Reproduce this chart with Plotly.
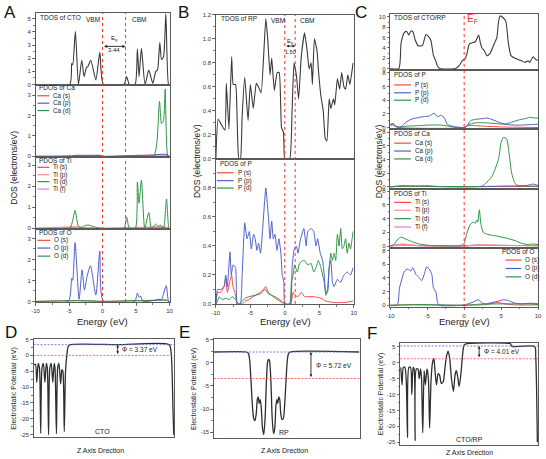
import plotly.graph_objects as go

W, H = 546, 459
FONT = "Arial, Liberation Sans, sans-serif"

# ---------------- DATA ----------------
band_gap_cto = 3.44
band_gap_rp = 1.50
vacuum_levels = [3.37, 2.30, 5.20]       # D, E, F
fermi_levels = [0.00, -3.42, 1.19]
work_functions = [3.37, 5.72, 4.01]
slab_names = ["CTO", "RP", "CTO/RP"]

# Panel A (CTO)
A_tdos_E = [-10, -4.9, -4.6, -4.45, -4.05, -3.6, -3.1, -2.75, -2.4, -2.15, -1.75, -1.0, -0.4, 0.15, 3.2, 3.6, 4.0, 4.85, 5.2, 5.45, 5.8, 6.35, 6.9, 7.5, 7.95, 8.2, 8.55, 8.8, 9.1, 9.45, 9.85, 10]
A_tdos = [0, 0, 1.6, 1.5, 4.05, 0.0, 1.85, 0.6, 1.3, 1.4, 1.85, 0.35, 2.45, 0.0, 0.0, 0.6, 0.0, 0.0, 2.7, 0.6, 2.75, 0.0, 1.1, 0.1, 1.0, 1.1, 3.2, 1.9, 2.1, 5.4, 0.0, 0]

A_cas_E = [-10, -4.1, -0.4, 0.1, 9.4, 10]
A_cas = [0, 0.03, 0.03, 0, 0.06, 0]
A_cap_E = [-10, -4.6, -4.1, -3.1, -1.8, -0.4, 0.1, 5.2, 6.9, 9.4, 10]
A_cap = [0, 0, 0.05, 0.05, 0.05, 0.05, 0, 0.05, 0.05, 0.1, 0]
A_cad_E = [-10, -4.6, -4.1, -3.6, -1.8, -0.4, 0.1, 7.6, 8.1, 8.5, 8.8, 9.1, 9.35, 9.75, 10]
A_cad = [0, 0, 0.04, 0, 0.03, 0.03, 0, 0, 0.65, 2.7, 1.6, 1.75, 3.3, 0, 0]

A_tis_E = [-10, -4.1, 0, 9.4, 10]
A_tis = [0, 0.03, 0, 0.03, 0]
A_tip_E = [-10, -4.1, -3.0, -2.0, 0, 3.6, 5.5, 9.4, 10]
A_tip = [0, 0.08, 0.05, 0.04, 0, 0.05, 0.05, 0.08, 0]
A_tid_E = [-10, -4.9, -4.1, -3.6, -3.1, -2.5, -2.0, -1.0, 0.1, 3.2, 3.6, 4.0, 4.9, 5.2, 5.45, 5.8, 6.3, 6.9, 7.3, 7.9, 8.3, 8.7, 9.1, 9.55, 9.9, 10]
A_tid = [0, 0, 0.85, 0.1, 0.05, 0.15, 0.15, 0.05, 0, 0, 0.55, 0, 0, 2.2, 1.2, 2.3, 0, 0.75, 0, 0.2, 0.1, 0.15, 0, 1.4, 0, 0]
A_tif_E = [-10, -4.1, 0, 5.5, 10]
A_tif = [0, 0.02, 0, 0.02, 0]

A_os_E = [-10, -4.1, 0, 5.2, 8.0, 8.8, 9.5, 10]
A_os = [0, 0.03, 0, 0.03, 0.05, 0.08, 0.06, 0]
A_op_E = [-10, -5.1, -4.6, -4.45, -4.1, -3.5, -3.05, -2.7, -2.3, -1.8, -1.0, -0.4, 0.15, 4.8, 5.2, 5.45, 5.7, 6.0, 7.8, 8.3, 8.8, 9.5, 9.85, 10]
A_op = [0, 0, 1.1, 1.0, 2.8, 0.1, 1.5, 0.55, 1.2, 1.7, 0.3, 2.4, 0, 0, 0.4, 0.2, 0.25, 0, 0.05, 0.1, 0.1, 0.75, 0, 0]
A_od_E = [-10, -4.1, -1.8, 0, 5.2, 9.5, 10]
A_od = [0, 0.04, 0.03, 0, 0.04, 0.05, 0]

# Panel B (RP)
B_tdos_E = [-10.0, -9.67, -9.05, -8.67, -8.48, -8.1, -7.71, -7.48, -7.14, -6.9, -6.67, -6.43, -6.19, -5.81, -5.33, -5.0, -4.57, -4.14, -3.81, -3.43, -2.76, -2.48, -2.14, -1.9, -1.52, -1.1, -0.81, -0.48, -0.19, 0.0, 0.71, 1.05, 1.33, 1.67, 2.0, 2.38, 2.86, 3.24, 3.52, 3.81, 4.0, 4.29, 4.67, 4.9, 5.24, 5.57, 5.86, 6.1, 6.43, 6.67, 7.05, 7.24, 7.62, 7.95, 8.24, 8.57, 8.81, 9.14, 9.43, 9.9]
B_tdos = [0.0, 0.33, 0.27, 0.24, 0.63, 0.25, 0.85, 0.62, 0.62, 0.3, 0.0, 0.0, 0.35, 0.68, 0.32, 0.62, 0.42, 0.63, 0.6, 0.55, 1.17, 1.0, 0.7, 0.84, 0.57, 0.72, 0.72, 0.26, 0.22, 0.0, 0.0, 0.4, 0.8, 0.7, 0.5, 0.85, 1.05, 0.9, 0.75, 0.8, 0.62, 1.0, 0.9, 0.72, 0.52, 0.4, 0.17, 0.15, 0.5, 0.42, 0.5, 0.45, 0.67, 0.58, 0.72, 0.6, 0.58, 0.7, 0.62, 0.8]

B_ps_E = [-10.0, -9.76, -9.29, -8.81, -8.57, -8.33, -8.0, -7.71, -7.52, -7.24, -6.9, -6.19, -5.71, -5.24, -4.29, -3.57, -3.1, -2.76, -2.38, -1.9, -1.43, -0.71, 0.0, 0.86, 1.19, 1.52, 1.9, 2.38, 2.86, 3.33, 4.29, 5.24, 5.95, 7.14, 8.57, 9.9]
B_ps = [0.0, 0.08, 0.08, 0.12, 0.18, 0.08, 0.15, 0.2, 0.12, 0.08, 0.0, 0.0, 0.02, 0.03, 0.06, 0.08, 0.1, 0.12, 0.08, 0.06, 0.04, 0.02, 0.0, 0.0, 0.08, 0.06, 0.05, 0.08, 0.05, 0.05, 0.05, 0.04, 0.02, 0.01, 0.01, 0.02]
B_pp_E = [-10.0, -9.76, -9.29, -8.81, -8.57, -8.33, -7.95, -7.76, -7.52, -7.14, -6.9, -6.43, -6.19, -5.81, -5.48, -5.14, -4.86, -4.52, -4.29, -4.05, -3.81, -3.52, -3.24, -2.76, -2.38, -2.14, -1.9, -1.67, -1.43, -1.14, -0.86, -0.57, -0.38, -0.14, 0.0, 0.81, 1.05, 1.33, 1.67, 1.9, 2.29, 2.76, 3.1, 3.33, 3.81, 4.19, 4.52, 4.76, 5.14, 5.48, 5.71, 5.95, 6.19, 6.43, 6.67, 6.9, 7.14, 7.62, 8.1, 8.57, 9.05, 9.52, 9.9]
B_pp = [0.0, 0.1, 0.1, 0.12, 0.2, 0.12, 0.36, 0.2, 0.27, 0.25, 0.0, 0.0, 0.2, 0.56, 0.45, 0.5, 0.38, 0.48, 0.45, 0.37, 0.42, 0.35, 0.5, 0.8, 0.6, 0.45, 0.57, 0.45, 0.48, 0.37, 0.45, 0.35, 0.2, 0.15, 0.0, 0.0, 0.25, 0.37, 0.4, 0.35, 0.45, 0.52, 0.4, 0.5, 0.52, 0.5, 0.4, 0.45, 0.35, 0.3, 0.2, 0.08, 0.08, 0.25, 0.3, 0.15, 0.12, 0.17, 0.15, 0.2, 0.22, 0.2, 0.25]
B_pd_E = [-10.0, -9.76, -9.52, -9.05, -8.57, -8.1, -7.62, -7.14, -6.67, -6.19, -5.71, -5.24, -4.29, -3.57, -2.86, -2.38, -1.43, -0.71, -0.24, 0.0, 0.71, 0.95, 1.19, 1.43, 1.81, 2.14, 2.62, 2.86, 3.33, 3.81, 4.19, 4.52, 4.86, 5.24, 5.48, 5.71, 5.95, 6.19, 6.43, 6.67, 6.9, 7.14, 7.38, 7.62, 7.86, 8.1, 8.33, 8.57, 8.81, 9.05, 9.29, 9.52, 9.76, 9.9]
B_pd = [0.0, 0.02, 0.05, 0.03, 0.04, 0.03, 0.05, 0.03, 0.0, 0.02, 0.04, 0.05, 0.06, 0.07, 0.1, 0.07, 0.05, 0.03, 0.01, 0.0, 0.0, 0.15, 0.2, 0.27, 0.22, 0.28, 0.3, 0.3, 0.27, 0.28, 0.22, 0.25, 0.3, 0.25, 0.2, 0.15, 0.06, 0.1, 0.25, 0.35, 0.3, 0.35, 0.3, 0.48, 0.4, 0.52, 0.38, 0.4, 0.45, 0.35, 0.42, 0.38, 0.45, 0.5]

# Panel C (CTO/RP)
C_tdos_E = [-10, -8.84, -8.53, -8.08, -7.77, -7.5, -7.19, -6.96, -6.61, -6.21, -5.63, -5.18, -4.82, -4.51, -4.15, -3.84, -3.62, -3.3, -1.16, -0.71, -0.27, 0.18, 0.4, 0.71, 1.07, 1.52, 1.96, 2.19, 2.41, 2.72, 3.08, 3.53, 3.97, 4.42, 4.64, 4.87, 5.31, 5.63, 5.98, 6.34, 6.88, 7.77, 8.21, 8.66, 8.88, 9.33, 9.64, 10]
C_tdos = [0, 0, 5.0, 7.0, 7.2, 6.5, 7.3, 7.2, 5.5, 4.4, 4.5, 6.6, 6.2, 5.5, 2.5, 1.5, 0.5, 0, 0, 0.5, 1.5, 2.0, 3.0, 4.8, 5.0, 5.2, 6.5, 5.0, 4.0, 3.5, 2.5, 3.0, 4.5, 6.0, 9.0, 10.2, 9.8, 9.2, 5.0, 2.5, 2.0, 1.5, 1.2, 1.5, 1.2, 2.3, 1.8, 1.6]

C_ps_E = [-10, -9.64, -9.29, -8.75, 0.04, 0.58, 2.86, 5.09, 7.32, 10]
C_ps = [0.4, 0.6, 0.2, 0.0, 0.0, 0.3, 0.2, 0.1, 0.05, 0.02]
C_pp_E = [-10, -9.64, -9.2, -8.75, -8.39, -7.86, -7.19, -6.52, -6.07, -5.4, -4.73, -4.06, -3.62, -3.17, -2.72, -2.28, -1.61, -0.71, 0.04, 0.4, 0.85, 1.52, 2.41, 3.08, 3.75, 4.64, 5.54, 6.43, 7.32, 8.21, 9.11, 10]
C_pp = [0.5, 0.6, 0.2, 0.1, 0.2, 0.8, 1.2, 1.4, 1.5, 1.6, 1.7, 2.1, 1.6, 1.8, 1.5, 0.5, 0.2, 0.05, 0.0, 0.3, 1.0, 1.2, 1.3, 1.4, 1.2, 0.8, 0.5, 0.4, 0.35, 0.4, 0.45, 0.5]
C_pd_E = [-10, -9.64, -9.2, -8.75, -7.86, -6.07, -3.84, -2.5, -1.61, 0.04, 0.58, 1.52, 2.86, 4.2, 5.54, 6.43, 7.32, 8.21, 8.88, 9.55, 10]
C_pd = [0.3, 0.4, 0.1, 0.05, 0.2, 0.3, 0.4, 0.3, 0.1, 0.0, 0.4, 0.7, 0.7, 0.6, 0.5, 0.8, 1.1, 1.3, 1.5, 1.4, 1.4]

C_cas_E = [-10, -9, -3, 0, 5, 10]
C_cas = [0, 0.05, 0.02, 0, 0.05, 0.05]
C_cap_E = [-10, -8.5, -6.5, -5, -3.5, 0, 2, 5, 8.5, 9.3, 10]
C_cap = [0, 0.15, 0.1, 0.15, 0.05, 0.0, 0.05, 0.1, 0.2, 0.4, 0.2]
C_cad_E = [-10, -8.5, -6, -3.5, 0, 2.4, 2.9, 3.75, 4.64, 5.0, 5.3, 5.75, 6.07, 6.43, 6.88, 7.32, 10]
C_cad = [0, 0.1, 0.1, 0.05, 0.05, 0.1, 0.5, 1.5, 4.0, 6.5, 7.2, 7.0, 5.0, 2.0, 0.5, 0.2, 0.1]

C_tis_E = [-10, -9, -8.5, -7.5, -6, 0, 1, 2, 5, 10]
C_tis = [0, 0.2, 0.25, 0.15, 0.05, 0, 0.1, 0.15, 0.1, 0.05]
C_tip_E = [-10, -9, -8.3, -7.5, -6, 0, 1.5, 2.2, 5, 10]
C_tip = [0, 0.15, 0.3, 0.2, 0.05, 0, 0.15, 0.2, 0.1, 0.05]
C_tid_E = [-10, -9.43, -8.97, -8.53, -7.86, -6.96, -6.07, -4.73, -3.3, -0.63, -0.18, 0.04, 0.4, 0.85, 1.3, 1.5, 1.7, 1.85, 2.05, 2.3, 2.6, 3.2, 4.2, 5.54, 6.88, 7.77, 8.66, 9.33, 10]
C_tid = [0, 0.3, 1.0, 1.3, 1.0, 0.6, 0.3, 0.1, 0.05, 0.05, 0.2, 0.5, 2.0, 3.2, 3.5, 3.3, 3.8, 3.5, 5.3, 3.0, 2.0, 1.7, 1.5, 1.2, 0.8, 0.4, 0.2, 0.3, 0.2]
C_tif_E = [-10, -8.5, -6, 0, 2, 5, 10]
C_tif = [0, 0.1, 0.05, 0, 0.1, 0.1, 0.05]

C_os_E = [-10, -7, 0, 3, 4.5, 5.5, 7, 10]
C_os = [0, 0.05, 0, 0.1, 0.4, 0.2, 0.05, 0.05]
C_op_E = [-10, -9.06, -8.75, -8.39, -8.08, -7.63, -7.19, -6.96, -6.52, -6.07, -5.76, -5.4, -5.09, -4.73, -4.38, -4.15, -3.84, -3.62, -3.39, -0.27, 0.18, 1.07, 1.96, 2.41, 2.86, 3.75, 4.64, 5.31, 5.98, 6.88, 7.77, 9.11, 10]
C_op = [0, 0, 2.5, 4.0, 5.0, 5.3, 5.0, 5.5, 4.5, 4.0, 3.6, 4.5, 5.6, 5.3, 4.5, 2.5, 2.0, 0.5, 0, 0, 0.1, 0.4, 0.8, 0.3, 0.2, 0.4, 0.6, 0.8, 0.7, 0.3, 0.2, 0.3, 0.2]
C_od_E = [-10, -7, -5, 0, 2, 5, 9, 10]
C_od = [0, 0.1, 0.1, 0, 0.15, 0.2, 0.2, 0.1]

# Electrostatic potentials (z in % of cell)
D_z = [0.47, 1.4, 2.3, 3.3, 4.2, 5.1, 6.0, 7.0, 8.1, 9.1, 9.8, 10.7, 11.6, 12.6, 13.7, 14.7, 15.3, 16.3, 17.2, 18.1, 19.3, 20.2, 20.9, 21.9, 22.8, 23.7, 24.7, 26.0, 60, 96.7, 98.1, 98.8, 99.5, 100]
D_v = [-3, -2.8, -8.5, -2.5, -4, -24.5, -4, -2.5, -8.5, -2.5, -4, -25, -4, -2.5, -8.5, -2.5, -4, -24.7, -4, -2.5, -9, -4.5, -5, -24, -5, 0, 2.8, 3.37, 3.37, 3.37, 1.0, -5, -18, -25]
E_z = [0, 22.5, 23.8, 24.7, 25.6, 26.5, 27.4, 28.3, 29.2, 29.9, 30.6, 31.2, 31.9, 32.6, 33.5, 34.4, 35.3, 36.2, 37.1, 37.8, 38.4, 39.3, 40.2, 41.1, 42.0, 42.7, 43.4, 44.0, 44.7, 45.4, 46.1, 47.0, 47.9, 48.8, 49.7, 50.6, 51.5, 52.6, 100]
E_v = [2.3, 2.3, 2.0, 0.5, -4, -9, -12, -12.5, -11, -8, -7.4, -8.8, -8, -9.5, -14, -15.5, -12, -4, 0.3, 0.7, 0.3, -4, -12, -15.3, -14, -9.5, -8, -8.8, -7.4, -8, -11, -12.3, -12, -9, -4, 0.5, 2.0, 2.3, 2.3]
F_z = [0.5, 1.4, 2.4, 3.5, 4.5, 5.4, 6.4, 7.6, 8.5, 9.5, 10.2, 10.9, 11.8, 13.0, 13.9, 14.9, 15.6, 16.5, 17.5, 18.4, 19.6, 20.6, 21.5, 22.5, 23.6, 24.6, 25.5, 26.5, 27.7, 28.8, 30.0, 31.4, 32.6, 33.8, 35.0, 36.2, 37.4, 38.8, 40.0, 40.9, 41.8, 43.0, 44.2, 45.4, 46.6, 48.0, 80.4, 81.1, 82.0, 98.1, 98.8, 99.5, 100]
F_v = [-1.5, -7, -1.5, -1.5, -6, -23.5, -1.5, -1.5, -10, -1.5, -2, -24.5, -2, -2, -5, -2, -5, -22, -2.5, -7, -2, -5, -20.5, -6, 0, 1.2, -3, -7, -3.5, -4, -6.5, -6, -2, 2, 3.6, 1, -5, -9, -4, -2.5, -4, -7.5, -4, 2, 5.5, 5.9, 5.9, 5.3, 5.0, 5.0, 2, -10, -25]

# ---------------- FIGURE ----------------
def PX(x):
    return x / W


def PY(y):
    return 1 - y / H


RED = "#f24a46"
SALMON = "#ff8e86"
BLUE = "#4f60cc"
GREEN = "#2f9446"
PINK = "#dd7ddd"
DARK = "#3a3a3a"
VRED = "#ff2b2b"

fig = go.Figure()
layout = {}
shapes = []
annots = []


def names(n):
    return ("x", "y") if n == 1 else (f"x{n}", f"y{n}")


BASE = dict(showline=True, mirror=True, linecolor="#5a5a5a", linewidth=1,
            ticks="outside", ticklen=2.5, tickwidth=0.8, tickcolor="#5a5a5a",
            tickfont=dict(size=6, color="#333", family=FONT),
            showgrid=False, zeroline=False, fixedrange=True)


def fmt(v, f):
    return (f"{v:.1f}" if f == "1f" else f"{v:g}")


def axes(n, xpx, ypx, yr, yvals, yminor, yf="g", xlabels=False, dos=True, xr=(-10, 10)):
    xn, yn = names(n)
    xa = dict(BASE, domain=[PX(xpx[0]), PX(xpx[1])], range=list(xr), anchor=yn)
    if dos:
        xa.update(tickvals=[-10, -5, 0, 5, 10], ticktext=["-10", "-5", "0", "5", "10"])
        if xlabels:
            xa.update(minor=dict(dtick=2.5, tick0=0, ticklen=1.5, ticks="outside", tickcolor="#5a5a5a"))
        else:
            xa.update(showticklabels=False, ticks="")
    else:
        xa.update(showticklabels=False, ticks="")
    ya = dict(BASE, domain=[PY(ypx[1]), PY(ypx[0])], range=yr, anchor=xn,
              tickvals=yvals, ticktext=[fmt(v, yf) for v in yvals],
              minor=dict(dtick=yminor, tick0=0, ticklen=1.5, ticks="outside", tickcolor="#5a5a5a"))
    layout["xaxis" if n == 1 else f"xaxis{n}"] = xa
    layout["yaxis" if n == 1 else f"yaxis{n}"] = ya


def line(n, x, y, color, width=1.0, smooth=0.6):
    xn, yn = names(n)
    fig.add_trace(go.Scatter(x=x, y=y, mode="lines", xaxis=xn, yaxis=yn,
                             line=dict(color=color, width=width, shape="spline", smoothing=smooth),
                             hoverinfo="skip", showlegend=False))


def text(x, y, s, size=6.5, color="#222", xa="left", ya="middle", angle=0):
    annots.append(dict(xref="paper", yref="paper", x=PX(x), y=PY(y), text=s, showarrow=False,
                       xanchor=xa, yanchor=ya, textangle=angle,
                       font=dict(size=size, color=color, family=FONT)))


def legend(x0, x1, tx, y, color, label, size=6.3):
    shapes.append(dict(type="line", xref="paper", yref="paper", x0=PX(x0), x1=PX(x1),
                       y0=PY(y), y1=PY(y), line=dict(color=color, width=1.2)))
    text(tx, y, label, size=size)


# ---- Panel A ----
AX = (32, 168)
axes(1, AX, (10, 83), [-0.03, 5.45], [0, 1, 2, 3, 4, 5], 0.5)
axes(2, AX, (83, 156), [-0.03, 3.5], [0, 1, 2, 3], 0.5)
axes(3, AX, (156, 229), [-0.03, 3.4], [0, 1, 2, 3], 0.5)
axes(4, AX, (229, 303), [-0.03, 3.45], [0, 1, 2, 3], 0.5, xlabels=True)
line(1, A_tdos_E, A_tdos, DARK, 1.1)
line(2, A_cas_E, A_cas, RED); line(2, A_cap_E, A_cap, BLUE); line(2, A_cad_E, A_cad, GREEN)
line(3, A_tis_E, A_tis, RED); line(3, A_tip_E, A_tip, SALMON); line(3, A_tif_E, A_tif, PINK); line(3, A_tid_E, A_tid, GREEN)
line(4, A_os_E, A_os, RED); line(4, A_od_E, A_od, GREEN); line(4, A_op_E, A_op, BLUE)
for xv in [0, band_gap_cto]:
    shapes.append(dict(type="line", xref="x", yref="paper", x0=xv, x1=xv, y0=PY(303), y1=PY(10),
                       line=dict(color=VRED, width=1, dash="dot")))
annots.append(dict(xref="x", yref="y", x=band_gap_cto, y=2.9, ax=0, ay=2.9, axref="x", ayref="y",
                   text="", showarrow=True, arrowhead=2, arrowside="end+start", arrowsize=0.7,
                   arrowwidth=0.9, arrowcolor="#222"))
text(34, 15, "TDOS of CTO")
text(90, 17, "VBM", xa="center")
text(137, 17, "CBM", xa="center")
text(112, 36, "E<sub>g</sub>", size=6, xa="center")
text(112, 48, f"{band_gap_cto:.2f}", size=6, xa="center")
text(33, 86, "PDOS of Ca")
for yy, c, lab in [(94, RED, "Ca (s)"), (101.5, BLUE, "Ca (p)"), (109, GREEN, "Ca (d)")]:
    legend(34, 46, 48, yy, c, lab)
text(33, 159.5, "PDOS of Ti")
for yy, c, lab in [(166.5, RED, "Ti (s)"), (174, SALMON, "Ti (p)"), (181, GREEN, "Ti (d)"), (188.5, PINK, "Ti (f)")]:
    legend(34, 46, 48, yy, c, lab)
text(33, 233, "PDOS of O")
for yy, c, lab in [(240.5, RED, "O (s)"), (248.3, BLUE, "O (p)"), (256.5, GREEN, "O (d)")]:
    legend(34, 47, 49, yy, c, lab)

# ---- Panel B ----
BX = (215, 355)
axes(5, BX, (12, 158), [0, 1.2], [0, 0.2, 0.4, 0.6, 0.8, 1.0, 1.2], 0.1, yf="1f")
axes(6, BX, (158, 305), [0, 1.0], [0, 0.2, 0.4, 0.6, 0.8], 0.1, yf="1f", xlabels=True)
line(5, B_tdos_E, B_tdos, DARK, 1.1, 0.4)
line(6, B_ps_E, B_ps, RED, 1.0, 0.4)
line(6, B_pd_E, B_pd, GREEN, 1.0, 0.4)
line(6, B_pp_E, B_pp, BLUE, 1.0, 0.4)
for xv in [0, band_gap_rp]:
    shapes.append(dict(type="line", xref="x5", yref="paper", x0=xv, x1=xv, y0=PY(305), y1=PY(12),
                       line=dict(color=VRED, width=1, dash="dot")))
annots.append(dict(xref="x5", yref="y5", x=band_gap_rp, y=0.94, ax=0, ay=0.94, axref="x5", ayref="y5",
                   text="", showarrow=True, arrowhead=2, arrowside="end+start", arrowsize=0.6,
                   arrowwidth=0.9, arrowcolor="#222"))
text(218, 16, "TDOS of RP")
text(278, 18, "VBM", xa="center")
text(307, 18, "CBM", xa="center")
text(290, 39, "E<sub>g</sub>", size=5.5, xa="center")
text(290.5, 50, f"{band_gap_rp:.2f}", size=5.5, xa="center")
text(217, 163, "PDOS of P")
for yy, c, lab in [(172, RED, "P (s)"), (180, BLUE, "P (p)"), (187.5, GREEN, "P (d)")]:
    legend(216, 233, 235, yy, c, lab)

# ---- Panel C ----
CX = (392, 542)
axes(7, CX, (11, 68), [-0.3, 10.6], [0, 2, 4, 6, 8, 10], 1)
axes(8, CX, (68, 128), [-0.25, 8.4], [0, 2, 4, 6, 8], 1)
axes(9, CX, (128, 188), [-0.25, 8.4], [0, 2, 4, 6, 8], 1)
axes(10, CX, (188, 248), [-0.25, 8.4], [0, 2, 4, 6, 8], 1)
axes(11, CX, (248, 308), [-0.25, 8.4], [0, 2, 4, 6, 8], 1, xlabels=True)
line(7, C_tdos_E, C_tdos, DARK, 1.1)
line(8, C_ps_E, C_ps, RED); line(8, C_pd_E, C_pd, GREEN); line(8, C_pp_E, C_pp, BLUE)
line(9, C_cas_E, C_cas, RED); line(9, C_cap_E, C_cap, BLUE); line(9, C_cad_E, C_cad, GREEN)
line(10, C_tis_E, C_tis, RED); line(10, C_tip_E, C_tip, SALMON); line(10, C_tif_E, C_tif, PINK); line(10, C_tid_E, C_tid, GREEN)
line(11, C_os_E, C_os, RED); line(11, C_od_E, C_od, GREEN); line(11, C_op_E, C_op, BLUE)
shapes.append(dict(type="line", xref="x7", yref="paper", x0=0, x1=0, y0=PY(308), y1=PY(11),
                   line=dict(color=VRED, width=1, dash="dot")))
text(394, 15, "TDOS of CTO/RP")
text(468, 16, "E<sub>F</sub>", size=10, color=VRED)
text(394, 72, "PDOS of P")
for yy, c, lab in [(83, RED, "P (s)"), (91, BLUE, "P (p)"), (98.5, GREEN, "P (d)")]:
    legend(396, 413, 415, yy, c, lab)
text(394, 132, "PDOS of Ca")
for yy, c, lab in [(142, RED, "Ca (s)"), (150, BLUE, "Ca (p)"), (158, GREEN, "Ca (d)")]:
    legend(396, 413, 415, yy, c, lab)
text(394, 193.5, "PDOS of Ti")
for yy, c, lab in [(202, RED, "Ti (s)"), (210, SALMON, "Ti (p)"), (218.5, GREEN, "Ti (d)"), (227, PINK, "Ti (f)")]:
    legend(396, 413, 415, yy, c, lab)
text(541, 252, "PDOS of O", xa="right")
for yy, c, lab in [(260.5, RED, "O (s)"), (269, BLUE, "O (p)"), (277.5, GREEN, "O (d)")]:
    legend(509, 525, 527, yy, c, lab)

# DOS axis titles
for x, y in [(10, 167), (196, 160), (380, 160)]:
    text(x, y, "DOS (electrons/eV)", size=8.5, xa="center", angle=-90)
for x in [100, 286, 467]:
    text(x, 323, "Energy (eV)", size=9.5, xa="center")

# ---- Potential panels D, E, F ----
pot = [
    (12, (30, 173), (340, 440), [-25.8, 5.3], [5, 0, -5, -10, -15, -20, -25], D_z, D_v, 60.0, 61.8, 1.7, 49.0),
    (13, (213, 361), (340, 441), [-16.3, 5.2], [5, 0, -5, -10, -15], E_z, E_v, 66.9, 68.8, -0.6, 48.0),
    (14, (402, 542), (344, 448), [-25.9, 6.3], [5, 0, -5, -10, -15, -20, -25], F_z, F_v, 57.6, 60.0, 3.6, 50.8),
]
for i, (n, xp, yp, yr, yv, zz, vv, arrx, tx, ty, lx) in enumerate(pot):
    axes(n, xp, yp, yr, yv, 2.5, dos=False, xr=(0, 100.5))
    xn, yn = names(n)
    for lvl, col in [(fermi_levels[i], "#ff5a5a"), (vacuum_levels[i], "#6a6ae8")]:
        shapes.append(dict(type="line", xref=f"{xn} domain", yref=yn, x0=0, x1=1, y0=lvl, y1=lvl,
                           line=dict(color=col, width=0.9, dash="2px,1.5px")))
    line(n, zz, vv, "#2e2e2e", 1.3, 0.7)
    annots.append(dict(xref=xn, yref=yn, x=arrx, y=vacuum_levels[i], ax=arrx, ay=fermi_levels[i],
                       axref=xn, ayref=yn, text="", showarrow=True, arrowhead=2, arrowside="end+start",
                       arrowsize=0.6, arrowwidth=0.9, arrowcolor="#222"))
    annots.append(dict(xref=xn, yref=yn, x=tx, y=ty, text=f"\u03a6 = {work_functions[i]:.2f} eV",
                       showarrow=False, xanchor="left", yanchor="middle",
                       font=dict(size=6.5, color="#222", family=FONT)))
    annots.append(dict(xref=xn, yref=f"{yn} domain", x=lx, y=0.005, text=slab_names[i],
                       showarrow=False, xanchor="center", yanchor="bottom",
                       font=dict(size=7, color="#222", family=FONT)))

for x, y in [(10, 391), (193, 391), (382, 396)]:
    text(x, y, "Electrostatic Potential (eV)", size=7, xa="center", angle=-90)
for x, y in [(98, 453), (285, 453), (472, 455)]:
    text(x, y, "Z Axis Drection", size=7, xa="center")

# panel letters
for lab, x, y in [("A", 6, 10), ("B", 182, 10), ("C", 362, 10), ("D", 7, 334), ("E", 183, 334), ("F", 373, 335)]:
    text(x, y, lab, size=17, color="#111", xa="center")

fig.update_layout(**layout)
fig.update_layout(width=W, height=H, margin=dict(l=0, r=0, t=0, b=0),
                  paper_bgcolor="white", plot_bgcolor="white", showlegend=False,
                  font=dict(family=FONT), shapes=shapes, annotations=annots)
fig.write_html("out.html", config={"displayModeBar": False, "staticPlot": True},
               post_script="document.body.style.margin='0px';document.body.style.overflow='hidden';")
